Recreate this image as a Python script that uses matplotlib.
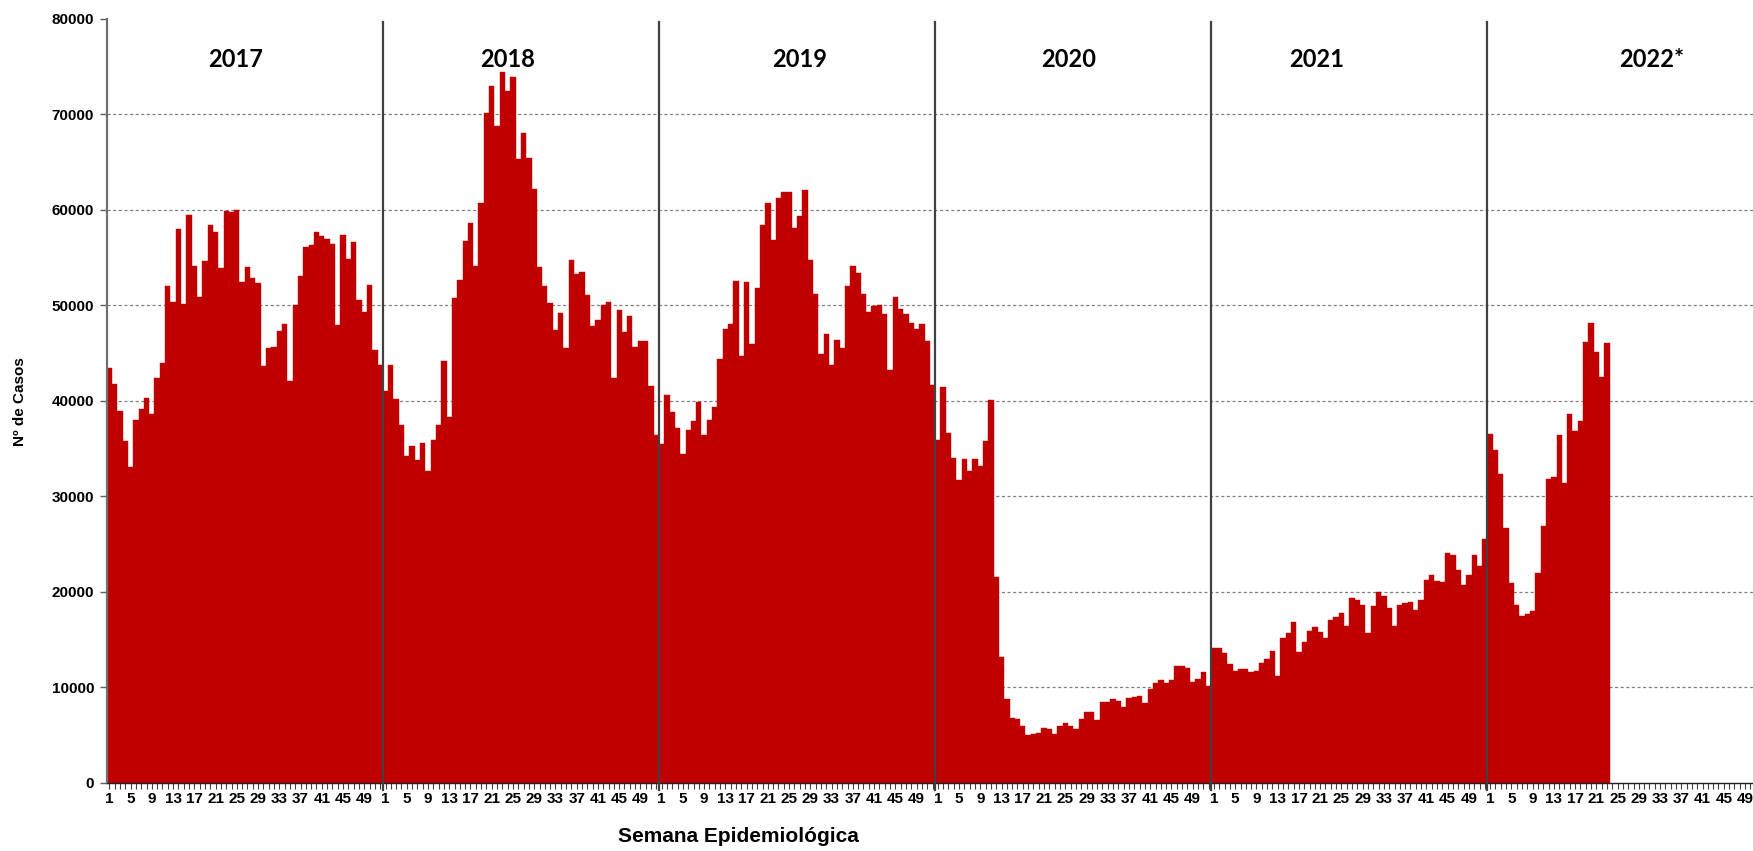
import numpy as np
import matplotlib
matplotlib.use('Agg')
import matplotlib.pyplot as plt
from matplotlib import font_manager

# weekly cases
years = ['2017', '2018', '2019', '2020', '2021', '2022*']
cases_2017 = [43400, 41800, 38900, 35800, 33100, 38000, 39100, 40300, 38600, 42400,
              44000, 52000, 50300, 58000, 50100, 59500, 54100, 50900, 54600, 58400,
              57700, 53900, 59900, 59800, 60000, 52400, 54000, 52900, 52300, 43600,
              45500, 45600, 47300, 48000, 42100, 50000, 53100, 56100, 56300, 57700,
              57300, 57000, 56400, 47900, 57400, 54900, 56600, 50600, 49300, 52100,
              45300, 43800]
cases_2018 = [41000, 43700, 40200, 37500, 34200, 35300, 33800, 35600, 32600, 35900,
              37500, 44200, 38300, 50800, 52700, 56700, 58600, 54100, 60700, 70200,
              73000, 68800, 74400, 72500, 73900, 65300, 68100, 65400, 62200, 54000,
              52000, 50200, 47400, 49200, 45500, 54700, 53300, 53500, 51100, 47800,
              48500, 50000, 50300, 42400, 49500, 47200, 48900, 45600, 46300, 46300,
              41500, 36400]
cases_2019 = [35500, 40600, 38800, 37200, 34400, 36900, 37900, 39900, 36400, 38000,
              39400, 44400, 47500, 48000, 52600, 44700, 52400, 46000, 51800, 58400,
              60700, 56800, 61200, 61900, 61900, 58100, 59400, 62100, 54800, 51200,
              44900, 47000, 43700, 46400, 45500, 52000, 54100, 53400, 51200, 49300,
              49900, 50000, 49100, 43200, 50900, 49600, 49100, 48100, 47500, 48000,
              46300, 41700]
cases_2020 = [35900, 41400, 36600, 34000, 31700, 33900, 32600, 33900, 33200, 35800,
              40100, 21500, 13200, 8800, 6800, 6700, 5900, 4950, 5100, 5200,
              5700, 5600, 5100, 5900, 6200, 5900, 5600, 6700, 7400, 7400,
              6600, 8400, 8400, 8800, 8600, 7900, 8900, 9000, 9100, 8300,
              9800, 10400, 10800, 10400, 10800, 12200, 12200, 12000, 10500, 10900,
              11600, 10100]
cases_2021 = [14100, 14100, 13600, 12400, 11700, 11900, 11900, 11600, 11700, 12500,
              13000, 13800, 11200, 15200, 15700, 16800, 13700, 14700, 15900, 16300,
              15800, 15100, 17000, 17300, 17800, 16400, 19300, 19100, 18600, 15700,
              18500, 20000, 19600, 18300, 16400, 18600, 18800, 18900, 18100, 19100,
              21200, 21800, 21100, 21000, 24100, 23800, 22300, 20700, 21700, 23800,
              22700, 25500]
cases_2022 = [36500, 34800, 32300, 26700, 20900, 18600, 17500, 17700, 18000, 22000,
              26900, 31800, 32000, 36400, 31400, 38600, 36800, 37900, 46200, 48200,
              45100, 42500, 46100]
week_labels = list(range(1, 53, 4))

cases = cases_2017 + cases_2018 + cases_2019 + cases_2020 + cases_2021 + cases_2022
n_weeks = 52
x = np.arange(len(cases))

names = {f.name for f in font_manager.fontManager.ttflist}
narrow = 'Liberation Sans Narrow' if 'Liberation Sans Narrow' in names else 'Liberation Sans'
plt.rcParams['font.family'] = ['Liberation Sans', 'DejaVu Sans']

W, H = 1753, 851
fig = plt.figure(figsize=(W / 100, H / 100), dpi=100)
ax = fig.add_axes([106.7 / W, 1 - 782.6 / H, (W - 106.7) / W, (782.6 - 19) / H])

ax.bar(x, cases, width=1.0, color='#C00000', edgecolor='#C00000', linewidth=0.3, zorder=2)

# the reference is cut at the right edge, a few weeks before the end of 2022
ax.set_xlim(-0.5, 309.5)
ax.set_ylim(0, 80000)
ax.set_yticks(range(0, 80001, 10000))
ax.set_yticklabels([str(v) for v in range(0, 80001, 10000)], fontsize=11, fontweight='bold')

# dashed gridlines, none on the top edge
for gy in range(10000, 80000, 10000):
    ax.axhline(gy, linestyle=(0, (2.5, 2)), color='#808080', linewidth=0.9, zorder=0)

major = [i * n_weeks + w - 1 for i in range(len(years)) for w in week_labels]
ax.set_xticks(major)
ax.set_xticklabels([str(w) for i in range(len(years)) for w in week_labels],
                   fontsize=11, fontweight='bold', family=narrow)
ax.set_xticks(np.arange(0, 310), minor=True)
ax.tick_params(axis='x', which='both', length=4, width=0.8, color='#404040', pad=3)
ax.tick_params(axis='y', length=5, width=1, color='#606060', pad=4)

for side in ['top', 'right']:
    ax.spines[side].set_visible(False)
ax.spines['left'].set_color('#707070')
ax.spines['left'].set_linewidth(1.6)
ax.spines['bottom'].set_color('#202020')
ax.spines['bottom'].set_linewidth(1.0)

# year separators and labels
for i in range(1, len(years)):
    xs = i * n_weeks - 0.5
    ax.plot([xs, xs], [-0.01, 0.996], color='#404040', lw=1.6,
            transform=ax.get_xaxis_transform(), clip_on=False, zorder=3)
label_x = [23.7, 74.9, 129.9, 180.6, 227.4, 290.5]
for lx, name in zip(label_x, years):
    ax.text(lx, 75800, name, ha='center', va='center', fontsize=17,
            fontweight='bold', family=['Lato', 'DejaVu Sans'])

fig.text(738 / W, 1 - 836 / H, 'Semana Epidemiológica', ha='center', va='center',
         fontsize=15, fontweight='bold')
fig.text(20 / W, 1 - 402 / H, 'Nº de Casos', ha='center', va='center',
         rotation=90, fontsize=11, fontweight='bold')

fig.savefig('out.png', dpi=100)
